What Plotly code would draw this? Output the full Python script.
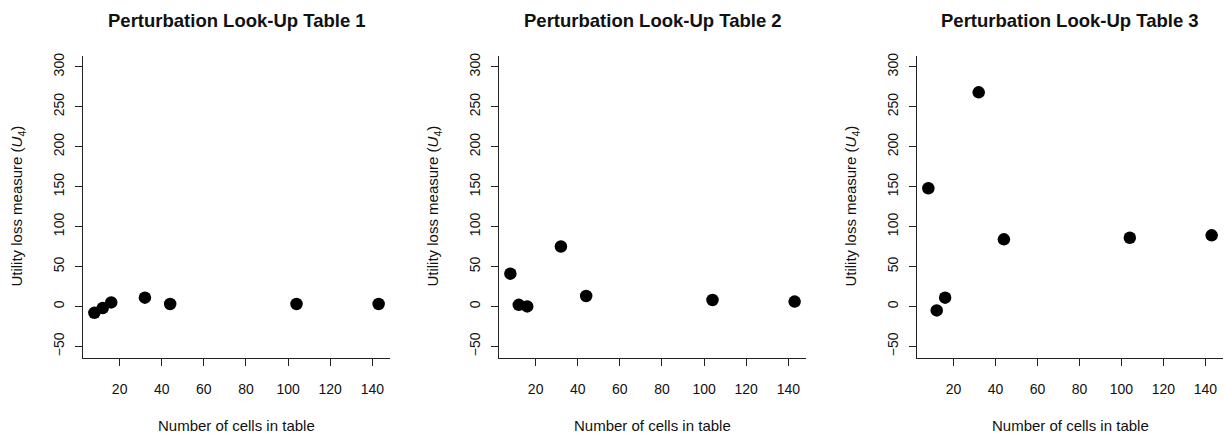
import plotly.graph_objects as go

cells = [8, 12, 16, 32, 44, 104, 143]
table1 = [-8, -2, 5, 11, 3, 3, 3]
table2 = [41, 2, 0, 75, 13, 8, 6]
table3 = [148, -5, 11, 268, 84, 86, 89]
titles = ["Perturbation Look-Up Table 1", "Perturbation Look-Up Table 2", "Perturbation Look-Up Table 3"]
series = [table1, table2, table3]
xticks = [20, 40, 60, 80, 100, 120, 140]
yticks = [-50, 0, 50, 100, 150, 200, 250, 300]

W, H = 1226, 434
panels_px = [(83, 390), (499, 806), (917, 1223)]
ytop, ybot = 53, 357
ydom = [(H - ybot) / H, (H - ytop) / H]

FONT = "Liberation Sans, Arial, sans-serif"
fig = go.Figure()
annotations = []
for i, (vals, ttl, (x0, x1)) in enumerate(zip(series, titles, panels_px)):
    n = "" if i == 0 else str(i + 1)
    fig.add_trace(go.Scatter(x=cells, y=vals, mode="markers",
                             marker=dict(color="black", size=12.5),
                             xaxis="x" + n, yaxis="y" + n, showlegend=False))
    dom = [x0 / W, x1 / W]
    fig.layout["xaxis" + n] = dict(domain=dom, range=[2.6, 148.4], tickvals=xticks,
                                   showline=True, linecolor="#222", linewidth=1.2,
                                   ticks="outside", ticklen=7, tickcolor="#222", tickwidth=1.2,
                                   showgrid=False, zeroline=False, anchor="y" + n,
                                   tickfont=dict(size=14, color="#111", family=FONT),
                                   ticklabelstandoff=12)
    fig.layout["yaxis" + n] = dict(domain=ydom, range=[-64, 314], tickvals=yticks,
                                   showline=True, linecolor="#222", linewidth=1.2,
                                   ticks="outside", ticklen=7, tickcolor="#222", tickwidth=1.2,
                                   showgrid=False, zeroline=False, anchor="x" + n,
                                   tickangle=-90,
                                   tickfont=dict(size=14, color="#111", family=FONT),
                                   ticklabelstandoff=5)
    cx = (x0 + x1) / 2 / W
    annotations.append(dict(text="<b>" + ttl + "</b>", x=cx, y=1 - 18 / H, xref="paper", yref="paper",
                            showarrow=False, xanchor="center", yanchor="middle",
                            font=dict(size=18.5, color="#111", family=FONT)))
    annotations.append(dict(text="Number of cells in table", x=cx, y=1 - 425 / H, xref="paper", yref="paper",
                            showarrow=False, xanchor="center", yanchor="middle",
                            font=dict(size=15, color="#111", family=FONT)))
    annotations.append(dict(text="Utility loss measure (<i>U</i><sub>4</sub>)", x=(x0 - 65) / W,
                            y=(ydom[0] + ydom[1]) / 2, xref="paper", yref="paper", textangle=-90,
                            showarrow=False, xanchor="center", yanchor="middle",
                            font=dict(size=15, color="#111", family=FONT)))

fig.update_layout(width=W, height=H, margin=dict(l=0, r=0, t=0, b=0),
                  plot_bgcolor="white", paper_bgcolor="white", annotations=annotations)
fig.write_html("out.html", config={"displayModeBar": False},
               post_script="document.body.style.margin='0px';document.body.style.overflow='hidden';")
